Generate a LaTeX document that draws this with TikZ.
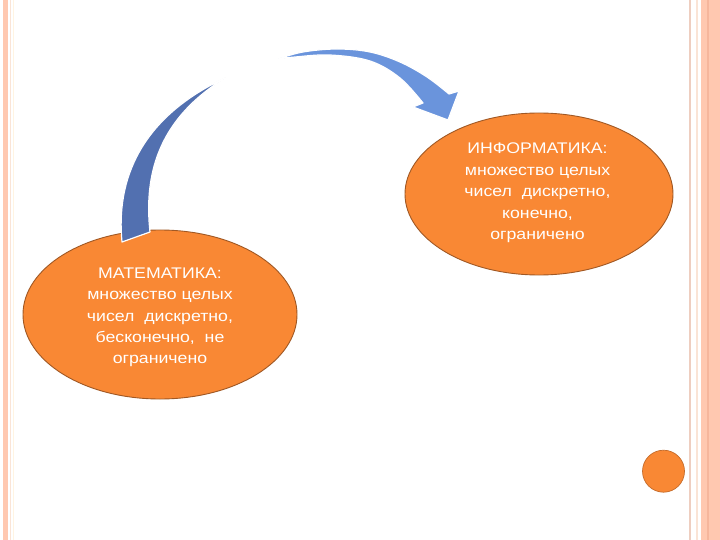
\documentclass[tikz,border=0pt]{standalone}
\usepackage{fontspec}
\setmainfont{Liberation Sans}[FakeStretch=1.15]
\usetikzlibrary{shapes.geometric}
\definecolor{salmon}{RGB}{255,200,176}
\definecolor{salmondk}{RGB}{246,182,156}
\definecolor{paleline}{RGB}{238,206,192}
\definecolor{paleline2}{RGB}{250,228,214}
\definecolor{paleyel}{RGB}{255,244,226}
\definecolor{orfill}{RGB}{249,136,52}
\definecolor{ordraw}{RGB}{160,88,36}
\definecolor{arrowA}{RGB}{82,112,176}
\definecolor{arrowB}{RGB}{106,148,220}
\tikzset{
  ell/.style={ellipse, draw=ordraw, line width=0.9pt, fill=orfill, inner sep=0pt},
  txt/.style={text=white, align=center, inner sep=0pt, font=\fontsize{15.4}{21.4}\selectfont},
  blockarrow/.style={draw=white, line width=1.2pt, line join=round}
}
\begin{document}
\begin{tikzpicture}[x=1pt,y=-1pt]
\useasboundingbox (0,0) rectangle (720,540);
\fill[white] (0,0) rectangle (720,540);
% left border
\fill[salmon] (3,0) rectangle (8.3,540);
\draw[paleline2, line width=1pt] (10.5,0) -- (10.5,540);
\draw[paleyel, line width=1pt] (13.8,0) -- (13.8,540);
% right border
\draw[paleline, line width=1.6pt] (689.7,0) -- (689.7,540);
\draw[paleline2, line width=1.4pt] (696.8,0) -- (696.8,540);
\fill[salmon] (701,0) rectangle (720,540);
\fill[salmondk] (706.7,0) rectangle (708.7,540);
% ellipses
\node[ell, minimum width=274pt, minimum height=169pt] (mat) at (160,314.5) {};
\node[ell, minimum width=268pt, minimum height=162pt] (inf) at (539,194) {};
% arrow 1 (from MATEMATIKA upward)
\fill[arrowA, blockarrow] (122,242) .. controls (116,180) and (140,118) .. (225,78)
  .. controls (170,112) and (142,160) .. (150,232) -- cycle;
% arrow 2 (to INFORMATIKA)
\fill[arrowB, blockarrow] plot[smooth, tension=0.6] coordinates {(278,59) (303,52) (337,49) (370,52) (400,62) (427,77) (449,94)}
  -- (459,91) -- (448,120) -- (413,107) -- (423,103)
  -- plot[smooth, tension=0.6] coordinates {(423,103) (400,78) (370,61) (330,55) (295,57) (278,59)} -- cycle;
% texts
\node[txt] (matt) at (160,317.4) {МАТЕМАТИКА:\\множество целых\\чисел\ \ дискретно,\\бесконечно,\ \ не\\ограничено};
\node[txt] (inft) at (537.5,193) {ИНФОРМАТИКА:\\множество целых\\чисел\ \ дискретно,\\конечно,\\ограничено};
% small circle
\node[circle, draw=ordraw!60!orfill, line width=0.7pt, fill=orfill, minimum size=42pt, inner sep=0pt] (dot) at (663.5,471.2) {};
\end{tikzpicture}
\end{document}
